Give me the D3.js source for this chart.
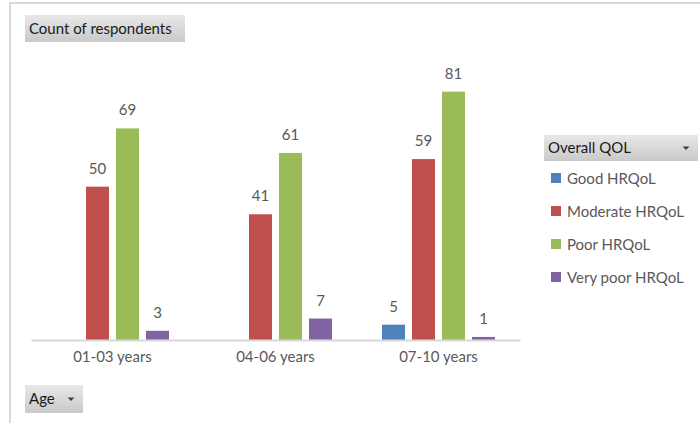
<!DOCTYPE html>
<html>
<head>
<meta charset="utf-8">
<script src="https://cdn.jsdelivr.net/npm/d3@7"></script>
<style>
  html, body { margin: 0; padding: 0; background: #fff; }
  svg { display: block; font-family: Lato, "Open Sans", sans-serif; }
</style>
</head>
<body>
<svg id="chart" width="700" height="423"></svg>
<script>
// Age groups on the category axis
const categories = ["01-03 years", "04-06 years", "07-10 years"];
// Overall QOL series
const seriesNames = ["Good HRQoL", "Moderate HRQoL", "Poor HRQoL", "Very poor HRQoL"];
const seriesColors = ["#4f81bd", "#c0504d", "#9bbb59", "#8064a2"];
// Count of respondents per age group (null = no respondents in that cell)
const goodHRQoL = [null, null, 5];
const moderateHRQoL = [50, 41, 59];
const poorHRQoL = [69, 61, 81];
const veryPoorHRQoL = [3, 7, 1];
const seriesValues = [goodHRQoL, moderateHRQoL, poorHRQoL, veryPoorHRQoL];

const svg = d3.select("#chart");
const defs = svg.append("defs");

// Gradient used by the pivot field buttons
const grad = defs.append("linearGradient")
  .attr("id", "btnGrad").attr("x1", 0).attr("y1", 0).attr("x2", 0).attr("y2", 1);
grad.append("stop").attr("offset", "0%").attr("stop-color", "#e8e8e8");
grad.append("stop").attr("offset", "100%").attr("stop-color", "#c9c9c9");

// Chart area frame (top and left edges)
svg.append("line").attr("x1", 10).attr("x2", 700).attr("y1", 3).attr("y2", 3)
  .attr("stroke", "#d9d9d9").attr("stroke-width", 2);
svg.append("line").attr("x1", 10).attr("x2", 10).attr("y1", 2).attr("y2", 423)
  .attr("stroke", "#d9d9d9").attr("stroke-width", 2);

// Scales
const x0 = d3.scaleBand().domain(categories).range([31, 520]).padding(0);
const x1 = d3.scaleBand().domain(seriesNames).range([25, 138])
  .paddingInner(7 / 30).paddingOuter(0);
const y = d3.scaleLinear().domain([0, 90]).range([340, 64]);
const color = d3.scaleOrdinal().domain(seriesNames).range(seriesColors);

// Flatten into bar records
const bars = [];
seriesNames.forEach((s, si) => {
  categories.forEach((c, ci) => {
    const v = seriesValues[si][ci];
    if (v != null) bars.push({ series: s, category: c, value: v });
  });
});

const plot = svg.append("g");

plot.selectAll("rect.bar")
  .data(bars)
  .join("rect")
  .attr("class", "bar")
  .attr("x", d => x0(d.category) + x1(d.series))
  .attr("y", d => y(d.value))
  .attr("width", x1.bandwidth())
  .attr("height", d => y(0) - y(d.value))
  .attr("fill", d => color(d.series));

// Data labels
plot.selectAll("text.val")
  .data(bars)
  .join("text")
  .attr("class", "val")
  .attr("x", d => x0(d.category) + x1(d.series) + x1.bandwidth() / 2)
  .attr("y", d => y(d.value) - 13)
  .attr("text-anchor", "middle")
  .attr("font-size", 15)
  .attr("fill", "#595959")
  .text(d => d.value);

// Category axis
const xAxis = d3.axisBottom(x0).tickSize(0).tickPadding(11);
const axG = svg.append("g").attr("transform", `translate(0,${y(0)})`).call(xAxis);
axG.select(".domain").attr("stroke", "#d9d9d9").attr("stroke-width", 2);
axG.selectAll("text").attr("font-size", 15).attr("fill", "#595959")
  .attr("font-family", "Lato, 'Open Sans', sans-serif");

// Field button helper
function fieldButton(x, yPos, w, h, label, dropdown) {
  const g = svg.append("g").attr("transform", `translate(${x},${yPos})`);
  g.append("rect").attr("width", w).attr("height", h).attr("fill", "url(#btnGrad)");
  g.append("text").attr("x", 4).attr("y", h / 2 + 5).attr("font-size", 15)
    .attr("fill", "#1a1a1a").text(label);
  if (dropdown) {
    const tx = w - 12, ty = h / 2;
    g.append("path")
      .attr("d", `M${tx - 3.5},${ty - 1.5} L${tx + 3.5},${ty - 1.5} L${tx},${ty + 2} Z`)
      .attr("fill", "#404040");
  }
  return g;
}

fieldButton(25, 15, 160, 27, "Count of respondents", false);
fieldButton(25, 385, 58, 28, "Age", true);
fieldButton(544, 135, 154, 26, "Overall QOL", true);

// Legend
const legend = svg.append("g").attr("transform", "translate(551,178)");
const items = legend.selectAll("g.item").data(seriesNames).join("g")
  .attr("class", "item")
  .attr("transform", (d, i) => `translate(0,${i * 33})`);
items.append("rect").attr("x", 0).attr("y", -5).attr("width", 10).attr("height", 10)
  .attr("fill", d => color(d));
items.append("text").attr("x", 16).attr("y", 5.5).attr("font-size", 15)
  .attr("fill", "#595959").text(d => d);
</script>
</body>
</html>
